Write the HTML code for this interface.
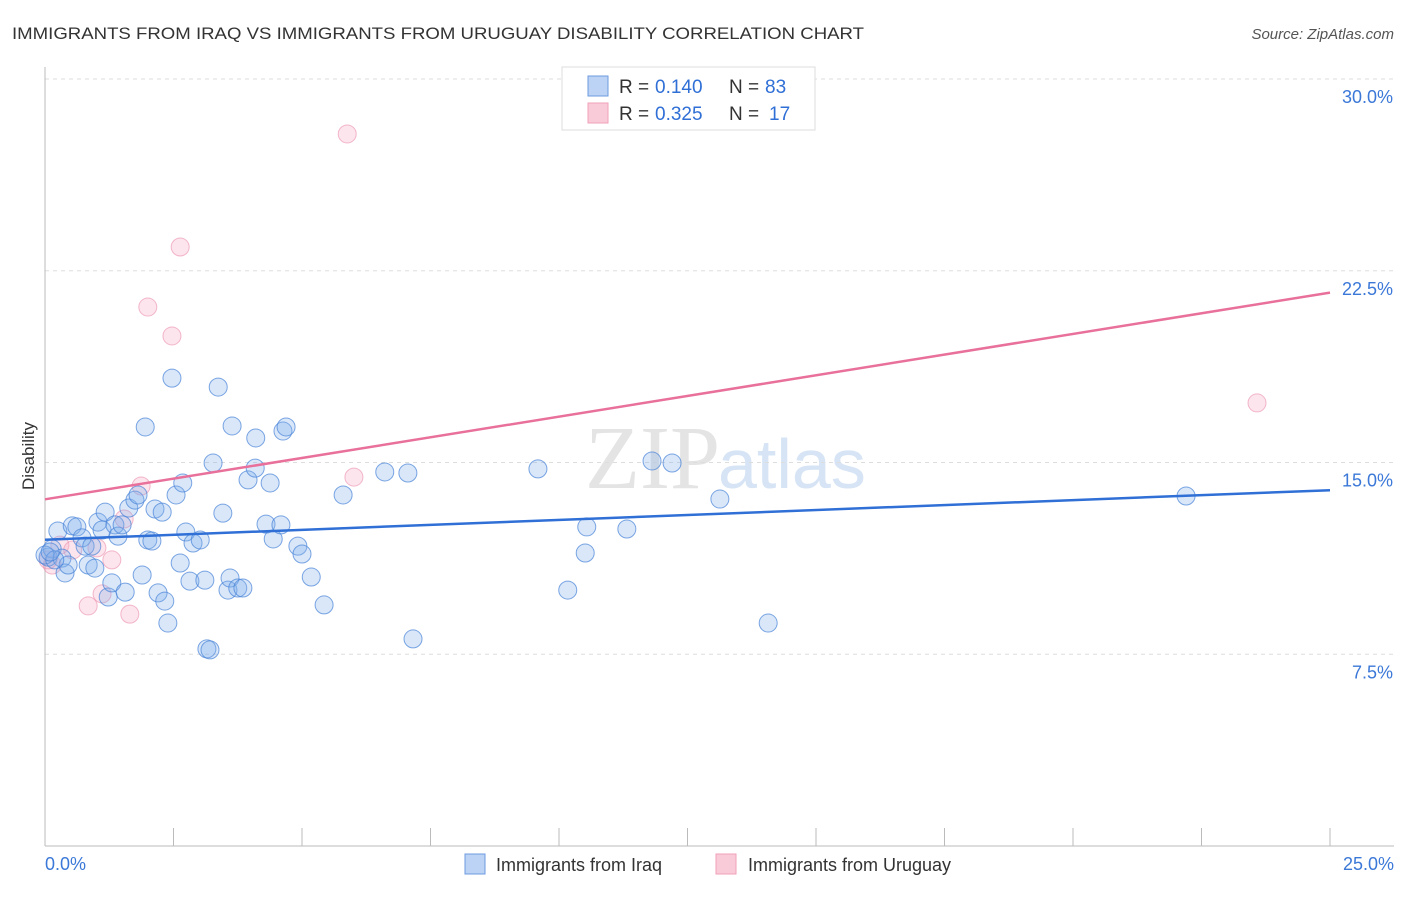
<!DOCTYPE html>
<html><head><meta charset="utf-8"><style>
body{margin:0;background:#fff;font-family:"Liberation Sans",sans-serif;}
</style></head><body>
<svg width="1406" height="892" xmlns="http://www.w3.org/2000/svg">
<text x="12" y="39" font-size="17" fill="#333" textLength="852" lengthAdjust="spacingAndGlyphs">IMMIGRANTS FROM IRAQ VS IMMIGRANTS FROM URUGUAY DISABILITY CORRELATION CHART</text>
<text x="1394" y="39" font-size="15" fill="#555" font-style="italic" text-anchor="end">Source: ZipAtlas.com</text>
<text x="720" y="488" font-size="90" fill="#e4e4e4" text-anchor="end" font-family="Liberation Serif,serif">ZIP</text>
<text x="718" y="488" font-size="70" fill="#d6e4f5">atlas</text>
<g id="grid"></g><g id="axes"></g><g id="pts"></g><g id="lines"></g>
<text x="34" y="456" font-size="17" fill="#333" transform="rotate(-90 34 456)" text-anchor="middle">Disability</text>
<g>
<rect x="562" y="67" width="253" height="63" fill="#fff" stroke="#ddd"/>
<rect x="588" y="76" width="20" height="20" fill="#bcd3f5" stroke="#6d9be0"/>
<rect x="588" y="103" width="20" height="20" fill="#f9cbd8" stroke="#f0a0b8"/>
<text x="619" y="93" font-size="19" fill="#333">R = </text><text x="655" y="93" font-size="19" fill="#2f6fd6">0.140</text>
<text x="729" y="93" font-size="19" fill="#333">N = </text><text x="765" y="93" font-size="19" fill="#2f6fd6">83</text>
<text x="619" y="120" font-size="19" fill="#333">R = </text><text x="655" y="120" font-size="19" fill="#2f6fd6">0.325</text>
<text x="729" y="120" font-size="19" fill="#333">N = </text><text x="769" y="120" font-size="19" fill="#2f6fd6">17</text>
</g>
<g>
<rect x="465" y="854" width="20" height="20" fill="#bcd3f5" stroke="#6d9be0"/>
<text x="496" y="871" font-size="18" fill="#333">Immigrants from Iraq</text>
<rect x="716" y="854" width="20" height="20" fill="#f9cbd8" stroke="#f0a0b8"/>
<text x="748" y="871" font-size="18" fill="#333">Immigrants from Uruguay</text>
</g>
</svg>
<script>
const iraqX=[0.06,0.14,0.25,0.33,0.39,0.45,0.53,0.62,0.72,0.78,0.84,0.91,0.97,1.03,1.11,1.17,1.23,1.30,1.36,1.42,1.50,1.56,1.63,1.75,1.81,1.89,1.95,2.00,2.08,2.14,2.20,2.28,2.33,2.39,2.47,2.55,2.63,2.68,2.74,2.82,2.88,3.02,3.11,3.15,3.21,3.27,3.37,3.46,3.56,3.60,3.64,3.75,3.85,3.95,4.09,4.10,4.30,4.38,4.44,4.59,4.63,4.69,4.92,5.00,5.18,5.43,5.80,6.61,7.06,7.16,9.59,10.17,10.51,10.54,11.32,11.81,12.20,13.13,14.07,22.20,0.00,0.19,0.10];
const iraqY=[11.30,11.62,12.32,11.26,10.68,10.99,12.52,12.48,12.05,11.73,10.99,11.73,10.87,12.67,12.36,13.06,9.74,10.29,12.56,12.12,12.56,9.93,13.22,13.53,13.73,10.60,16.39,11.97,11.93,13.18,9.90,13.06,9.58,8.72,18.30,13.73,11.07,14.20,12.28,10.36,11.85,11.97,10.40,7.71,7.67,14.98,17.95,13.02,10.01,10.48,16.43,10.09,10.09,14.32,14.78,15.96,12.59,14.20,12.01,12.56,16.23,16.39,11.73,11.42,10.52,9.43,13.73,14.63,14.59,8.10,14.75,10.01,11.46,12.48,12.40,15.06,14.98,13.57,8.72,13.69,11.38,11.19,11.50];
const uruX=[5.88,2.63,2.00,2.47,23.58,6.01,1.87,1.54,1.01,0.84,1.30,1.65,1.11,0.14,0.29,0.54,0.06];
const uruY=[27.85,23.43,21.08,19.95,17.33,14.43,14.08,12.79,11.66,9.39,11.19,9.07,9.86,10.99,11.77,11.58,11.19];
const yTicks=[7.5,15,22.5,30];
const yTickLabels=["7.5%","15.0%","22.5%","30.0%"];
const xTicks=[0,2.5,5,7.5,10,12.5,15,17.5,20,22.5,25];
const NS="http://www.w3.org/2000/svg";
const X=v=>45+v*1285/25, Y=v=>846-v*767/30;
function mk(p,t,a){const e=document.createElementNS(NS,t);for(const k in a)e.setAttribute(k,a[k]);p.appendChild(e);return e;}
const grid=document.getElementById('grid'),axes=document.getElementById('axes');
yTicks.forEach((t,i)=>{
 const l=mk(grid,'line',{x1:45,x2:1394,y1:Y(t),y2:Y(t),stroke:'#ddd','stroke-dasharray':'4,4'});
 
 
 const tx=mk(axes,'text',{x:1393,y:Y(t)+24,'font-size':18,fill:'#3b78d8','text-anchor':'end'});
 tx.textContent=yTickLabels[i];
 
 
});
const ya=mk(axes,'line',{x1:45,x2:45,y1:67,y2:846,stroke:'#bbb'});


const xa=mk(axes,'line',{x1:45,x2:1394,y1:846,y2:846,stroke:'#bbb'});


xTicks.forEach(t=>{const l=mk(axes,'line',{x1:X(t),x2:X(t),y1:828,y2:846,stroke:'#bbb'});
 
 });
[[0,'0.0%','start',45],[25,'25.0%','end',1394]].forEach(d=>{const tx=mk(axes,'text',{x:d[3],y:870,'font-size':18,fill:'#3b78d8','text-anchor':d[2]});tx.textContent=d[1];
 
 });
const pts=document.getElementById('pts'),lines=document.getElementById('lines');
function series(xs,ys,fill,stroke,name){
 xs.forEach((x,i)=>{const c=mk(pts,'circle',{cx:X(x),cy:Y(ys[i]),r:9,fill:fill,stroke:stroke,'stroke-width':1});
  
  });
}
function trend(xs,ys,color,name){
 const n=xs.length,mx=xs.reduce((a,b)=>a+b)/n,my=ys.reduce((a,b)=>a+b)/n;
 let sxy=0,sxx=0;xs.forEach((x,i)=>{sxy+=(x-mx)*(ys[i]-my);sxx+=(x-mx)**2;});
 const b=sxy/sxx,a=my-b*mx;
 const l=mk(lines,'line',{x1:X(0),y1:Y(a),x2:X(25),y2:Y(a+b*25),stroke:color,'stroke-width':2.5});
 
 
}
series(uruX,uruY,'rgba(245,170,195,0.3)','rgba(235,140,170,0.6)','uruguay');
series(iraqX,iraqY,'rgba(130,175,235,0.3)','rgba(70,130,215,0.7)','iraq');
trend(iraqX,iraqY,'#2f6fd6','iraq');
trend(uruX,uruY,'#e8709a','uruguay');
</script>
</body></html>
